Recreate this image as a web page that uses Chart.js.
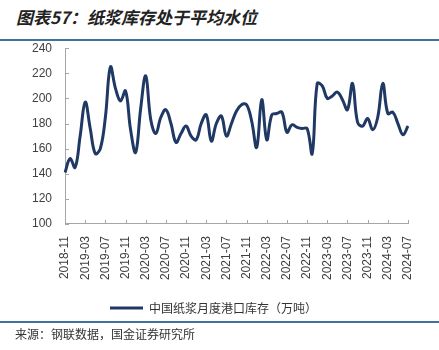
<!DOCTYPE html>
<html>
<head>
<meta charset="utf-8">
<script src="https://cdn.jsdelivr.net/npm/chart.js@4.4.1/dist/chart.umd.min.js"></script>
<style>
  body { margin: 0; background: #fff; width: 439px; height: 350px; position: relative; overflow: hidden; }
  .title { position: absolute; left: 16px; top: 4px; font: italic bold 17px "Noto Sans CJK SC", sans-serif; color: #222; }
  .rule { position: absolute; left: 0; width: 439px; height: 2px; background: #41719c; z-index: 2; }
  .source { position: absolute; left: 15px; top: 325px; font: 12px "Noto Sans CJK SC", sans-serif; color: #333; }
  .box { position: absolute; left: 0; top: 28px; width: 439px; height: 298px; }
</style>
</head>
<body>
<div class="title">图表57：纸浆库存处于平均水位</div>
<div class="rule" style="top:39px"></div>
<div class="box"><canvas id="pulpChart"></canvas></div>
<div class="rule" style="top:321px"></div>
<div class="source">来源：钢联数据，国金证券研究所</div>
<script>
// months 2018-11 .. 2024-07
const firstMonth = [2018, 11];
const monthCount = 69;
const months = [];
for (let i = 0; i < monthCount; i++) {
  const m = firstMonth[1] - 1 + i;
  const y = firstMonth[0] + Math.floor(m / 12);
  months.push(y + '-' + String(m % 12 + 1).padStart(2, '0'));
}

// tick labels shown on the x axis
const tickLabels = ['2018-11', '2019-03', '2019-07', '2019-11', '2020-03', '2020-07',
  '2020-11', '2021-03', '2021-07', '2021-11', '2022-03', '2022-07', '2022-11',
  '2023-03', '2023-07', '2023-11', '2024-03', '2024-07'];

// 中国纸浆月度港口库存（万吨）
const pulpStock = [
  141, 152, 145, 170, 197, 176, 156, 160, 185, 225,
  208, 198, 206, 175, 157, 192, 218, 183, 172, 185,
  191, 180, 165, 172, 178, 170, 167, 180, 187, 166,
  180, 186, 170, 180, 190, 195, 195, 182, 161, 199,
  167, 187, 188, 189, 173, 179, 177, 176, 176, 156,
  212, 210, 200, 202, 205, 199, 191, 212, 181, 178,
  184, 175, 185, 212, 188, 189, 180, 171, 178
];

const yMin = 100, yMax = 240, yStep = 20;
const lineColor = '#1f3864';
const axisColor = '#a6a6a6';

// small tick marks on the inside of both axes
const innerTicks = {
  id: 'innerTicks',
  afterDraw(chart) {
    const ctx = chart.ctx;
    const x = chart.scales.x, y = chart.scales.y;
    ctx.save();
    ctx.strokeStyle = axisColor;
    ctx.lineWidth = 1;
    ctx.beginPath();
    y.ticks.forEach(t => {
      const py = Math.round(y.getPixelForValue(t.value)) + 0.5;
      ctx.moveTo(x.left, py);
      ctx.lineTo(x.left + 4, py);
    });
    months.forEach((m, i) => {
      if (!tickLabels.includes(m)) return;
      const px = Math.round(x.getPixelForValue(i)) + 0.5;
      ctx.moveTo(px, y.bottom);
      ctx.lineTo(px, y.bottom - 4);
    });
    ctx.stroke();
    ctx.restore();
  }
};

const ctx = document.getElementById('pulpChart').getContext('2d');
new Chart(ctx, {
  type: 'line',
  data: {
    labels: months,
    datasets: [{
      label: '中国纸浆月度港口库存（万吨）',
      data: pulpStock,
      borderColor: lineColor,
      backgroundColor: lineColor,
      borderWidth: 3,
      pointRadius: 0,
      tension: 0.4,
      fill: false
    }]
  },
  options: {
    responsive: true,
    maintainAspectRatio: false,
    animation: false,
    layout: { padding: { left: 19, right: 31, top: 5, bottom: 2 } },
    plugins: {
      tooltip: { enabled: false },
      legend: {
        position: 'bottom',
        labels: {
          usePointStyle: true,
          pointStyle: 'line',
          pointStyleWidth: 33,
          color: '#333',
          padding: 10,
          font: { family: '"Noto Sans CJK SC", sans-serif', size: 12 }
        }
      }
    },
    scales: {
      x: {
        offset: false,
        grid: { display: true, drawOnChartArea: false, drawTicks: false },
        border: { color: axisColor, width: 1 },
        ticks: {
          autoSkip: false,
          maxRotation: 90,
          minRotation: 90,
          padding: 12,
          color: '#404040',
          font: { family: '"Liberation Sans", Arial, sans-serif', size: 12 },
          callback: function (value, index) {
            const lab = months[index];
            return tickLabels.includes(lab) ? lab : null;
          }
        }
      },
      y: {
        min: yMin,
        max: yMax,
        grid: { display: true, drawOnChartArea: false, drawTicks: false },
        border: { color: axisColor, width: 1 },
        ticks: {
          stepSize: yStep,
          padding: 13,
          color: '#404040',
          font: { family: '"Liberation Sans", Arial, sans-serif', size: 12 }
        }
      }
    }
  },
  plugins: [innerTicks]
});
</script>
</body>
</html>
